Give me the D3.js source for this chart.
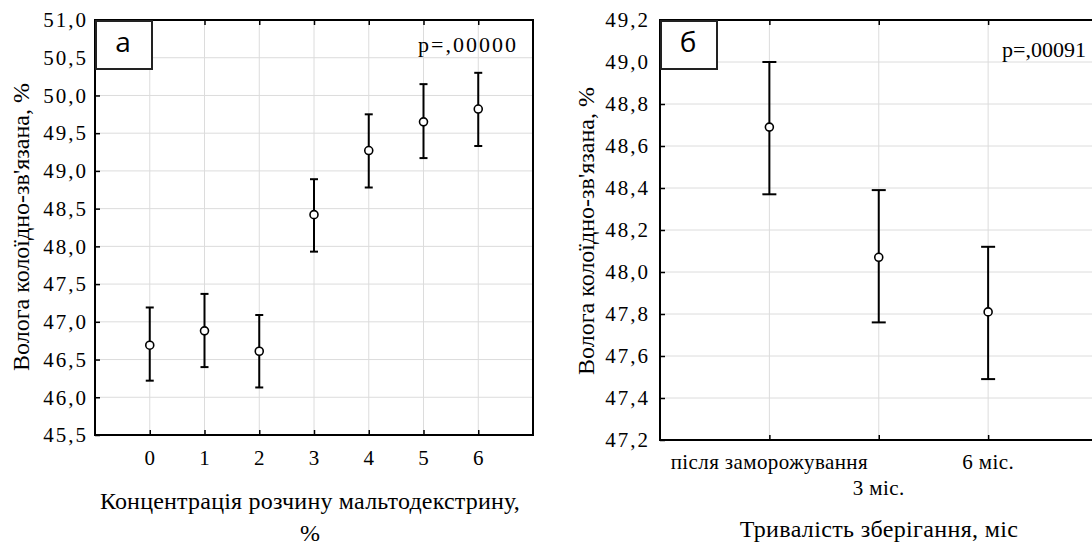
<!DOCTYPE html>
<html>
<head>
<meta charset="utf-8">
<script src="https://cdn.jsdelivr.net/npm/d3@7"></script>
<style>
  body { margin: 0; background: #fff; }
</style>
</head>
<body>
<svg id="chart" width="1092" height="545"></svg>
<script>
// панель а: концентрація мальтодекстрину
const concCats = [0, 1, 2, 3, 4, 5, 6];
const concMean = [46.69, 46.88, 46.61, 48.42, 49.27, 49.65, 49.82];
const concLow  = [46.22, 46.40, 46.13, 47.93, 48.78, 49.17, 49.33];
const concHigh = [47.19, 47.37, 47.09, 48.89, 49.75, 50.15, 50.30];
const concTicks = [45.5, 46, 46.5, 47, 47.5, 48, 48.5, 49, 49.5, 50, 50.5, 51];

// панель б: тривалість зберігання
const storeCats = ["після заморожування", "3 міс.", "6 міс."];
const storeMean = [48.69, 48.07, 47.81];
const storeLow  = [48.37, 47.76, 47.49];
const storeHigh = [49.00, 48.39, 48.12];
const storeTicks = [47.2, 47.4, 47.6, 47.8, 48.0, 48.2, 48.4, 48.6, 48.8, 49.0, 49.2];

const SERIF = "'Liberation Serif', 'DejaVu Serif', serif";
const svg = d3.select("#chart");
const fmt = d => d3.format(".1f")(d).replace(".", ",");

function panel(opt) {
    const {left, right, top, bottom} = opt;
    const g = svg.append("g");
    const x = d3.scaleLinear().domain(opt.xDomain).range([left, right]);
    const y = d3.scaleLinear().domain(opt.yDomain).range([bottom, top]);

    // сітка
    g.append("g").selectAll("line").data(opt.yTicks).join("line")
        .attr("x1", left).attr("x2", right)
        .attr("y1", d => y(d)).attr("y2", d => y(d))
        .attr("stroke", "#dcdcdc").attr("stroke-width", 1);
    g.append("g").selectAll("line").data(opt.xIdx).join("line")
        .attr("x1", d => x(d)).attr("x2", d => x(d))
        .attr("y1", top).attr("y2", bottom)
        .attr("stroke", "#dcdcdc").attr("stroke-width", 1);

    // осі
    const yAxis = d3.axisLeft(y).tickValues(opt.yTicks).tickSize(-5).tickPadding(opt.yPad).tickFormat(fmt);
    const ya = g.append("g").attr("transform", `translate(${left},0)`).call(yAxis);
    ya.select(".domain").remove();
    ya.selectAll("line").attr("stroke", "#000").attr("stroke-width", 1.5);
    ya.selectAll("text")
        .style("font-family", SERIF).style("font-size", "21px")
        .style("letter-spacing", "2px").attr("fill", "#000");

    const xAxis = d3.axisBottom(x).tickValues(opt.xIdx).tickSize(-5).tickFormat(() => "");
    const xa = g.append("g").attr("transform", `translate(0,${bottom})`).call(xAxis);
    xa.select(".domain").remove();
    xa.selectAll("line").attr("stroke", "#000").attr("stroke-width", 1.5);
    const xt = g.append("g").attr("transform", `translate(0,${top})`).call(d3.axisTop(x).tickValues(opt.xIdx).tickSize(-5).tickFormat(() => ""));
    xt.select(".domain").remove();
    xt.selectAll("line").attr("stroke", "#000").attr("stroke-width", 1.5);

    // підписи категорій
    g.append("g").selectAll("text").data(opt.xIdx).join("text")
        .attr("x", d => x(d))
        .attr("y", (d, i) => bottom + opt.labelDy + (opt.stagger && i % 2 === 1 ? 26 : 0))
        .attr("text-anchor", "middle")
        .style("font-family", SERIF)
        .style("font-size", "21px")
        .style("letter-spacing", opt.labelSpacing)
        .text((d, i) => opt.labels[i]);

    // рамка
    g.append("rect")
        .attr("x", left).attr("y", top)
        .attr("width", right - left).attr("height", bottom - top)
        .attr("fill", "none").attr("stroke", "#000").attr("stroke-width", 2);

    // довірчі інтервали
    const eb = g.append("g").selectAll("g").data(opt.xIdx).join("g");
    const cw = opt.capW;
    eb.append("line")
        .attr("x1", d => x(d)).attr("x2", d => x(d))
        .attr("y1", (d, i) => y(opt.low[i])).attr("y2", (d, i) => y(opt.high[i]))
        .attr("stroke", "#000").attr("stroke-width", 2);
    eb.append("line")
        .attr("x1", d => x(d) - cw).attr("x2", d => x(d) + cw)
        .attr("y1", (d, i) => y(opt.high[i])).attr("y2", (d, i) => y(opt.high[i]))
        .attr("stroke", "#000").attr("stroke-width", 2);
    eb.append("line")
        .attr("x1", d => x(d) - cw).attr("x2", d => x(d) + cw)
        .attr("y1", (d, i) => y(opt.low[i])).attr("y2", (d, i) => y(opt.low[i]))
        .attr("stroke", "#000").attr("stroke-width", 2);
    eb.append("circle")
        .attr("cx", d => x(d)).attr("cy", (d, i) => y(opt.mean[i]))
        .attr("r", 4)
        .attr("fill", "#fff").attr("stroke", "#000").attr("stroke-width", 1.6);

    // мітка панелі
    g.append("rect")
        .attr("x", left + 1).attr("y", top + 1)
        .attr("width", 56).attr("height", 48)
        .attr("fill", "#fff").attr("stroke", "#222").attr("stroke-width", 2);
    g.append("text")
        .attr("x", left + 28).attr("y", top + 32)
        .attr("text-anchor", "middle")
        .style("font-family", "'Open Sans', 'Noto Sans', sans-serif")
        .style("font-size", "28px")
        .text(opt.tag);

    g.append("text")
        .attr("x", opt.pX).attr("y", opt.pY)
        .attr("text-anchor", opt.pAnchor)
        .style("font-family", SERIF)
        .style("font-size", "22px")
        .style("letter-spacing", opt.pSpacing)
        .text(opt.pText);

    // назви осей
    g.append("text")
        .attr("transform", `translate(${opt.yTitleX},${opt.yTitleY}) rotate(-90)`)
        .attr("text-anchor", "middle")
        .style("font-family", SERIF)
        .style("font-size", "24px")
        .text("Волога колоїдно-зв'язана, %");
    opt.xTitle.forEach((t, i) => {
        g.append("text")
            .attr("x", opt.xTitleX).attr("y", opt.xTitleY + i * 32)
            .attr("text-anchor", "middle")
            .style("font-family", SERIF)
            .style("font-size", "24px")
            .style("letter-spacing", opt.xTitleSpacing)
            .text(t);
    });
}

panel({
    left: 95, right: 533, top: 20, bottom: 435,
    xDomain: [-1, 7], yDomain: [45.5, 51], yPad: 7,
    xIdx: concCats, labels: concCats.map(String), labelDy: 30, stagger: false, labelSpacing: "0px",
    yTicks: concTicks, mean: concMean, low: concLow, high: concHigh, capW: 4,
    tag: "а", pText: "p=,00000", pX: 518, pY: 52, pAnchor: "end", pSpacing: "2px",
    yTitleX: 29, yTitleY: 227,
    xTitle: ["Концентрація розчину мальтодекстрину,", "%"],
    xTitleX: 310, xTitleY: 509, xTitleSpacing: "0.2px"
});

panel({
    left: 660, right: 1097.5, top: 20, bottom: 440,
    xDomain: [-1, 3], yDomain: [47.2, 49.2], yPad: 10,
    xIdx: [0, 1, 2], labels: storeCats, labelDy: 29, stagger: true, labelSpacing: "0.4px",
    yTicks: storeTicks, mean: storeMean, low: storeLow, high: storeHigh, capW: 7,
    tag: "б", pText: "p=,00091", pX: 1002, pY: 57, pAnchor: "start", pSpacing: "0px",
    yTitleX: 594, yTitleY: 231,
    xTitle: ["Тривалість зберігання, міс"],
    xTitleX: 879, xTitleY: 537, xTitleSpacing: "0.35px"
});
</script>
</body>
</html>
